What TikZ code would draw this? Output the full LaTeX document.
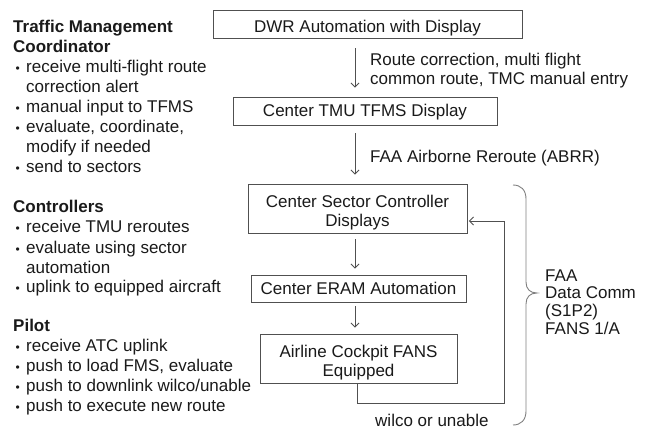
\documentclass[tikz,border=0pt]{standalone}
\usepackage{fontspec}
\setmainfont{Liberation Sans}
\usetikzlibrary{arrows.meta}
\definecolor{linec}{HTML}{505050}
\definecolor{textc}{HTML}{1A1A1A}
\definecolor{bracec}{HTML}{808080}
\newcommand{\mybul}{\makebox[13pt][l]{\hspace{2.5pt}{\fontsize{12}{12}\selectfont •}}}
\newcommand{\myind}{\hspace*{13pt}}
\newcommand{\myup}{\rule{0pt}{19.8pt}}
\begin{document}
\begin{tikzpicture}[x=1pt,y=-1pt,
  box/.style={draw=linec, line width=0.9pt, inner sep=0pt, align=center,
    font=\fontsize{17}{19}\selectfont, text=textc},
  onebox/.style={box, text height=13pt, text depth=1pt},
  arr/.style={draw=linec, line width=0.9pt, -{Straight Barb[length=4pt,width=8pt]}},
  lbl/.style={inner sep=0pt, anchor=base west, font=\fontsize{17}{20}\selectfont, text=textc},
]
\fill[white] (0,0) rectangle (647,430);
\useasboundingbox (0,0) rectangle (647,430);

% left column
\node[lbl] (tmc) at (13,33) {\begin{tabular}[t]{@{}l@{}}\textbf{Traffic Management}\\ \textbf{Coordinator}\\
  \mybul receive multi-flight route\\ \myind correction alert\\ \mybul manual input to TFMS\\
  \mybul evaluate, coordinate,\\ \myind modify if needed\\ \mybul send to sectors\end{tabular}};
\node[lbl] (ctl) at (13,213) {\begin{tabular}[t]{@{}l@{}}\textbf{Controllers}\\
  \mybul receive TMU reroutes\\ \mybul evaluate using sector\\ \myind automation\\
  \mybul uplink to equipped aircraft\end{tabular}};
\node[lbl] (pil) at (13,331) {\begin{tabular}[t]{@{}l@{}}\textbf{Pilot}\\
  \mybul receive ATC uplink\\ \mybul push to load FMS, evaluate\\
  \mybul push to downlink wilco/unable\\ \mybul push to execute new route\end{tabular}};

% boxes
\node[box, minimum width=309pt, minimum height=28pt, text height=17.4pt, text depth=0pt] (dwr) at (367.5,24) {DWR Automation with Display};
\node[onebox, minimum width=264pt, minimum height=28pt] (tmu) at (365,111) {Center TMU TFMS Display};
\node[box, minimum width=219pt, minimum height=49pt] (sec) at (357.5,208.5) {\myup Center Sector Controller\\Displays};
\node[onebox, minimum width=215pt, minimum height=27pt] (eram) at (358.5,288.5) {Center ERAM Automation};
\node[box, minimum width=197pt, minimum height=49pt] (air) at (358.5,358.5) {\myup Airline Cockpit FANS\\Equipped};

% arrows
\coordinate (ax) at (355,0);
\draw[arr, shorten <=10pt, shorten >=9pt] (dwr.south -| ax) -- (tmu.north -| ax);
\draw[arr, shorten <=8pt, shorten >=9pt] (tmu.south -| ax) -- (sec.north -| ax);
\draw[arr, shorten <=6pt, shorten >=6pt] (sec.south -| ax) -- (eram.north -| ax);
\draw[arr, shorten <=4pt, shorten >=6pt] (eram.south -| ax) -- (air.north -| ax);

% feedback loop
\coordinate (fbd) at (357,403);
\coordinate (fbr) at (504,403);
\coordinate (fbu) at (504,221);
\draw[arr, shorten >=1.5pt] (air.south -| fbd) -- (fbd) -- (fbr) -- (fbu) -- (sec.east |- fbu);

% labels
\node[lbl, font=\fontsize{17}{18.5}\selectfont] (lab1) at (370,66) {\begin{tabular}[t]{@{}l@{}}Route correction, multi flight\\common route, TMC manual entry\end{tabular}};
\node[lbl] (lab2) at (370,163) {FAA Airborne Reroute (ABRR)};
\node[lbl] (wil) at (375,426) {wilco or unable};

% brace
\draw[bracec, line width=0.9pt] (513,185) .. controls (521,185) and (526,190) .. (526,199)
  -- (526,282) .. controls (526,289) and (530,293) .. (537,293)
  .. controls (530,293) and (526,297) .. (526,304)
  -- (526,411) .. controls (526,420) and (521,425) .. (513,425);
\node[lbl, font=\fontsize{17}{17.7}\selectfont] (dc) at (545,281) {\begin{tabular}[t]{@{}l@{}}FAA\\Data Comm\\(S1P2)\\FANS 1/A\end{tabular}};
\end{tikzpicture}
\end{document}
